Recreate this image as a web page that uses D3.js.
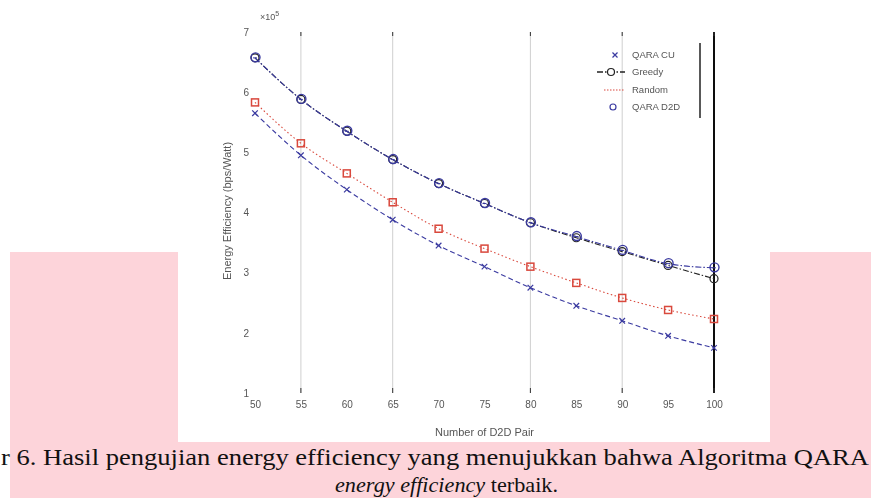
<!DOCTYPE html>
<html>
<head>
<meta charset="utf-8">
<script src="https://cdn.jsdelivr.net/npm/d3@7"></script>
<style>
  html, body { margin: 0; padding: 0; background: #fff; }
  svg { display: block; }
</style>
</head>
<body>
<svg id="chart" width="871" height="498"></svg>
<script>
// D2D pair counts
const pairs = [50, 55, 60, 65, 70, 75, 80, 85, 90, 95, 100];

// energy efficiency, x10^5 bps/Watt
const qaraCu = [5.65, 4.95, 4.38, 3.88, 3.45, 3.1, 2.75, 2.45, 2.2, 1.95, 1.75];
const greedy = [6.57, 5.88, 5.35, 4.88, 4.48, 4.15, 3.83, 3.58, 3.35, 3.12, 2.9];
const random = [5.83, 5.15, 4.65, 4.17, 3.73, 3.4, 3.1, 2.83, 2.58, 2.38, 2.23];
const qaraD2d = [6.57, 5.88, 5.35, 4.88, 4.48, 4.15, 3.83, 3.6, 3.37, 3.15, 3.08];

const yTicks = [1, 2, 3, 4, 5, 6, 7];
const gridAt = [55, 65, 80, 90];
const legendNames = ['QARA CU', 'Greedy', 'Random', 'QARA D2D'];

const svg = d3.select('#chart');

// soft blur, the figure is a low quality scan
svg.append('defs').append('filter')
  .attr('id', 'soft')
  .append('feGaussianBlur')
  .attr('stdDeviation', 0.35);

// page background: pink band behind the pasted figure
svg.append('rect')
  .attr('x', 10).attr('y', 252)
  .attr('width', 861).attr('height', 246)
  .attr('fill', '#fdd4da');

svg.append('rect')
  .attr('x', 178).attr('y', 0)
  .attr('width', 592).attr('height', 442)
  .attr('fill', '#fff');

const fig = svg.append('g').attr('filter', 'url(#soft)');

const x = d3.scaleLinear().domain([50, 100]).range([255, 714]);
const y = d3.scaleLinear().domain([1, 7]).range([393, 32]);

const blue = '#3a3aa0';
const red = '#d9483c';
const textCol = '#555';
const font = "'Liberation Sans', Arial, sans-serif";

// vertical grid lines
fig.append('g')
  .selectAll('line')
  .data(gridAt)
  .join('line')
  .attr('x1', d => x(d)).attr('x2', d => x(d))
  .attr('y1', y(7)).attr('y2', y(1))
  .attr('stroke', '#cfcfcf')
  .attr('stroke-width', 1);

// right border of the axes box
fig.append('line')
  .attr('x1', x(100)).attr('x2', x(100))
  .attr('y1', y(7)).attr('y2', y(1))
  .attr('stroke', '#111')
  .attr('stroke-width', 2);

// ticks at top and bottom
const tickXs = gridAt.concat([100]);
fig.append('g')
  .selectAll('line')
  .data(tickXs)
  .join('line')
  .attr('x1', d => x(d)).attr('x2', d => x(d))
  .attr('y1', y(7)).attr('y2', y(7) + 4)
  .attr('stroke', '#333');
fig.append('g')
  .selectAll('line')
  .data(tickXs)
  .join('line')
  .attr('x1', d => x(d)).attr('x2', d => x(d))
  .attr('y1', y(1) - 5).attr('y2', y(1))
  .attr('stroke', '#333');

// x axis labels
const xAxis = fig.append('g')
  .attr('transform', `translate(0, ${y(1) + 8})`)
  .call(d3.axisBottom(x).tickValues(pairs).tickSize(0).tickPadding(0));
xAxis.select('.domain').remove();
xAxis.selectAll('text')
  .attr('dy', '0.71em')
  .style('font-family', font)
  .style('font-size', '10px')
  .style('fill', textCol);

// y axis labels
const yAxis = fig.append('g')
  .attr('transform', `translate(${x(50) - 6}, 0)`)
  .call(d3.axisLeft(y).tickValues(yTicks).tickFormat(d3.format('d')).tickSize(0).tickPadding(0));
yAxis.select('.domain').remove();
yAxis.selectAll('text')
  .style('font-family', font)
  .style('font-size', '10px')
  .style('fill', textCol);

// exponent
fig.append('text')
  .attr('x', 260).attr('y', 20)
  .style('font-family', font)
  .style('font-size', '9px')
  .style('fill', textCol)
  .text('×10')
  .append('tspan')
  .attr('dy', -4)
  .style('font-size', '7px')
  .text('5');

// axis titles
fig.append('text')
  .attr('x', (x(50) + x(100)) / 2)
  .attr('y', 436)
  .attr('text-anchor', 'middle')
  .style('font-family', font)
  .style('font-size', '11px')
  .style('fill', textCol)
  .text('Number of D2D Pair');

fig.append('text')
  .attr('transform', 'translate(231, 211) rotate(-90)')
  .attr('text-anchor', 'middle')
  .style('font-family', font)
  .style('font-size', '11px')
  .style('fill', textCol)
  .text('Energy Efficiency (bps/Watt)');

// series lines
const line = d3.line()
  .x((d, i) => x(pairs[i]))
  .y(d => y(d))
  .curve(d3.curveMonotoneX);

const series = [
  { vals: random, color: red, dash: '1.5,2.5', width: 1.1 },
  { vals: qaraCu, color: blue, dash: '5,3', width: 1.1 },
  { vals: greedy, color: '#222', dash: '6,2,1.5,2', width: 1.1 },
  { vals: qaraD2d, color: blue, dash: '6,2,1.5,2', width: 1.1 }
];

series.forEach(s => {
  fig.append('path')
    .datum(s.vals)
    .attr('d', line)
    .attr('fill', 'none')
    .attr('stroke', s.color)
    .attr('stroke-width', s.width)
    .attr('stroke-dasharray', s.dash);
});

// markers
function drawX(g, cx, cy, r, color) {
  g.append('path')
    .attr('d', `M${cx - r},${cy - r}L${cx + r},${cy + r}M${cx - r},${cy + r}L${cx + r},${cy - r}`)
    .attr('stroke', color)
    .attr('stroke-width', 1.2);
}

const marks = fig.append('g');

qaraCu.forEach((v, i) => drawX(marks, x(pairs[i]), y(v), 2.8, blue));

random.forEach((v, i) => {
  marks.append('rect')
    .attr('x', x(pairs[i]) - 3.5).attr('y', y(v) - 3.5)
    .attr('width', 7).attr('height', 7)
    .attr('fill', 'none')
    .attr('stroke', red)
    .attr('stroke-width', 1.5);
});

greedy.forEach((v, i) => {
  marks.append('circle')
    .attr('cx', x(pairs[i])).attr('cy', y(v))
    .attr('r', 4)
    .attr('fill', 'none')
    .attr('stroke', '#222')
    .attr('stroke-width', 1.2);
});

qaraD2d.forEach((v, i) => {
  marks.append('circle')
    .attr('cx', x(pairs[i]) + 0.5).attr('cy', y(v) - 0.5)
    .attr('r', 4.5)
    .attr('fill', 'none')
    .attr('stroke', blue)
    .attr('stroke-width', 1.4);
  marks.append('path')
    .attr('d', `M${x(pairs[i]) - 2},${y(v)}L${x(pairs[i]) + 2},${y(v)}`)
    .attr('stroke', blue)
    .attr('stroke-width', 1);
});

// legend
const legend = fig.append('g');
legend.append('line')
  .attr('x1', 700).attr('x2', 700)
  .attr('y1', 43).attr('y2', 118)
  .attr('stroke', '#222')
  .attr('stroke-width', 1.5);

const rowY = [55, 72, 90, 107];
legendNames.forEach((name, i) => {
  legend.append('text')
    .attr('x', 632).attr('y', rowY[i])
    .attr('dy', '0.35em')
    .style('font-family', font)
    .style('font-size', '9.5px')
    .style('fill', textCol)
    .text(name);
});

drawX(legend, 615, rowY[0], 2.5, blue);
legend.append('line')
  .attr('x1', 597).attr('x2', 625)
  .attr('y1', rowY[1]).attr('y2', rowY[1])
  .attr('stroke', '#222')
  .attr('stroke-width', 1.4)
  .attr('stroke-dasharray', '6,2,1.5,2');
legend.append('circle')
  .attr('cx', 611).attr('cy', rowY[1]).attr('r', 3.5)
  .attr('fill', '#fff').attr('stroke', '#222').attr('stroke-width', 1.2);
legend.append('line')
  .attr('x1', 604).attr('x2', 624)
  .attr('y1', rowY[2]).attr('y2', rowY[2])
  .attr('stroke', red)
  .attr('stroke-width', 1)
  .attr('stroke-dasharray', '1.5,1.5');
legend.append('circle')
  .attr('cx', 613).attr('cy', rowY[3]).attr('r', 3)
  .attr('fill', 'none').attr('stroke', blue).attr('stroke-width', 1.2);

// caption of the document page
const serif = "'Liberation Serif', 'Times New Roman', Times, serif";
svg.append('text')
  .attr('x', 1).attr('y', 465)
  .attr('textLength', 868)
  .attr('lengthAdjust', 'spacingAndGlyphs')
  .style('font-family', serif)
  .style('font-size', '23px')
  .style('fill', '#111')
  .text('r 6. Hasil pengujian energy efficiency yang menujukkan bahwa Algoritma QARA');

const cap2 = svg.append('text')
  .attr('x', 335).attr('y', 492)
  .attr('textLength', 223)
  .attr('lengthAdjust', 'spacingAndGlyphs')
  .style('font-family', serif)
  .style('font-size', '21px')
  .style('fill', '#111');
cap2.append('tspan').style('font-style', 'italic').text('energy efficiency');
cap2.append('tspan').text(' terbaik.');
</script>
</body>
</html>
